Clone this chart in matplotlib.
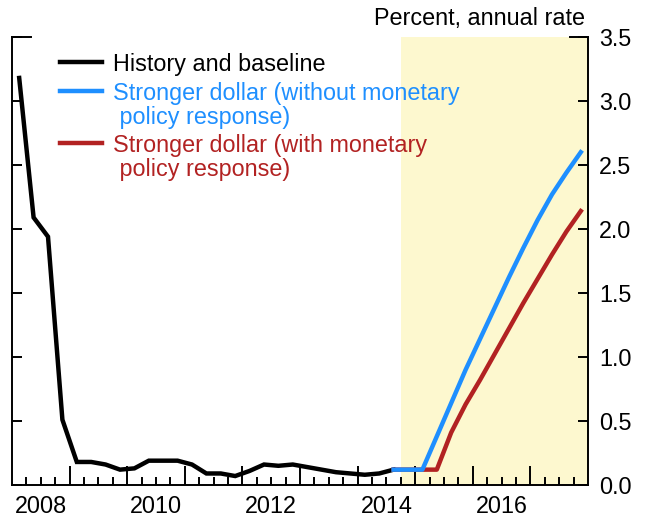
import matplotlib
matplotlib.use("Agg")
import matplotlib.pyplot as plt
from matplotlib.ticker import FixedLocator, FuncFormatter
from matplotlib.lines import Line2D
import numpy as np

plt.rcParams['font.family'] = ['Liberation Sans', 'DejaVu Sans']

# ---- data (quarterly, percent annual rate) ----
hist_start = 2008  # first quarter: 2008Q1
history = [3.18, 2.09, 1.94, 0.51,
           0.18, 0.18, 0.16, 0.12,
           0.13, 0.19, 0.19, 0.19,
           0.16, 0.09, 0.09, 0.07,
           0.11, 0.16, 0.15, 0.16,
           0.14, 0.12, 0.10, 0.09,
           0.08, 0.09, 0.12]
proj_start_index = 26  # projections start at 2014Q3 (last history point)
no_response = [0.12, 0.12, 0.12, 0.38, 0.64, 0.90,
               1.14, 1.38, 1.62, 1.85,
               2.07, 2.27, 2.44, 2.60]
with_response = [0.12, 0.12, 0.12, 0.12, 0.41, 0.63,
                 0.82, 1.02, 1.22, 1.42,
                 1.61, 1.80, 1.98, 2.14]
shade_start = 2014.75
x_limits = (2008, 2018)
y_ticks = [0.0, 0.5, 1.0, 1.5, 2.0, 2.5, 3.0, 3.5]
label_years = [2008, 2010, 2012, 2014, 2016]

def qpos(i):
    # mid-quarter decimal year for quarter index i counted from 2008Q1
    return hist_start + 0.25 * i + 0.125

x_hist = [qpos(i) for i in range(len(history))]
x_proj = [qpos(proj_start_index + i) for i in range(len(no_response))]

BLACK = '#000000'
BLUE = '#1E8FFF'
RED = '#B22222'
SHADE = '#FDF8CF'
FS = 16.8
LW = 3.2

fig = plt.figure(figsize=(6.53, 5.22), dpi=100)
ax = fig.add_axes([12/653, 37/522, 576/653, 448/522])

ax.axvspan(shade_start, x_limits[1], color=SHADE, lw=0, zorder=0)

ax.plot(x_hist, history, color=BLACK, lw=LW, solid_joinstyle='miter', zorder=3)
ax.plot(x_proj, with_response, color=RED, lw=LW, zorder=3)
ax.plot(x_proj, no_response, color=BLUE, lw=LW, zorder=4)

ax.set_xlim(*x_limits)
ax.set_ylim(y_ticks[0], y_ticks[-1])

for s in ['left', 'right', 'bottom']:
    ax.spines[s].set_linewidth(1.4)
ax.spines['top'].set_visible(False)

# y axis: ticks both sides, labels right
ax.set_yticks(y_ticks)
ax.yaxis.set_major_formatter(FuncFormatter(lambda v, p: f"{v:.1f}"))
ax.tick_params(axis='y', which='major', direction='in', left=True, right=True,
               labelleft=False, labelright=True, length=7, width=1.4,
               pad=8, labelsize=FS)

# x axis: year ticks (long), quarter ticks (short), labels at mid-year
years = np.arange(x_limits[0] + 1, x_limits[1])
ax.xaxis.set_major_locator(FixedLocator(years))
ax.xaxis.set_major_formatter(FuncFormatter(lambda v, p: ""))
quarters = [y + q / 4 for y in range(x_limits[0], x_limits[1]) for q in (1, 2, 3)]
ax.xaxis.set_minor_locator(FixedLocator(quarters))
label_pos = {y + 0.5: str(y) for y in label_years}
ax.xaxis.set_minor_formatter(FuncFormatter(
    lambda v, p: label_pos.get(round(v * 4) / 4, "")))
ax.tick_params(axis='x', which='major', direction='in', length=14, width=1.4,
               top=False)
ax.tick_params(axis='x', which='minor', direction='in', length=6, width=1.4,
               top=False, pad=7, labelsize=FS)

# longer top ticks
ax.add_line(Line2D([0, 19/576], [1, 1], transform=ax.transAxes, color='k',
                   lw=1.4, clip_on=False))
ax.add_line(Line2D([1 - 18/576, 1], [1, 1], transform=ax.transAxes, color='k',
                   lw=1.4, clip_on=False))

ax.text(0.995, 1.027, "Percent, annual rate", transform=ax.transAxes,
        ha='right', va='baseline', fontsize=FS)

# legend (manual)
hx0, hx1, tx = 48/576, 90/576, 101/576
entries = [
    (BLACK, 0.944, ["History and baseline"], [0.924]),
    (BLUE, 0.879, ["Stronger dollar (without monetary", " policy response)"], [0.859, 0.806]),
    (RED, 0.763, ["Stronger dollar (with monetary", " policy response)"], [0.743, 0.690]),
]
for col, hy, lines, ys in entries:
    ax.add_line(Line2D([hx0, hx1], [hy, hy], transform=ax.transAxes,
                       color=col, lw=LW))
    for t, yy in zip(lines, ys):
        ax.text(tx, yy, t, transform=ax.transAxes, ha='left', va='baseline',
                fontsize=FS, color=col)

fig.savefig("out.png", dpi=100)
